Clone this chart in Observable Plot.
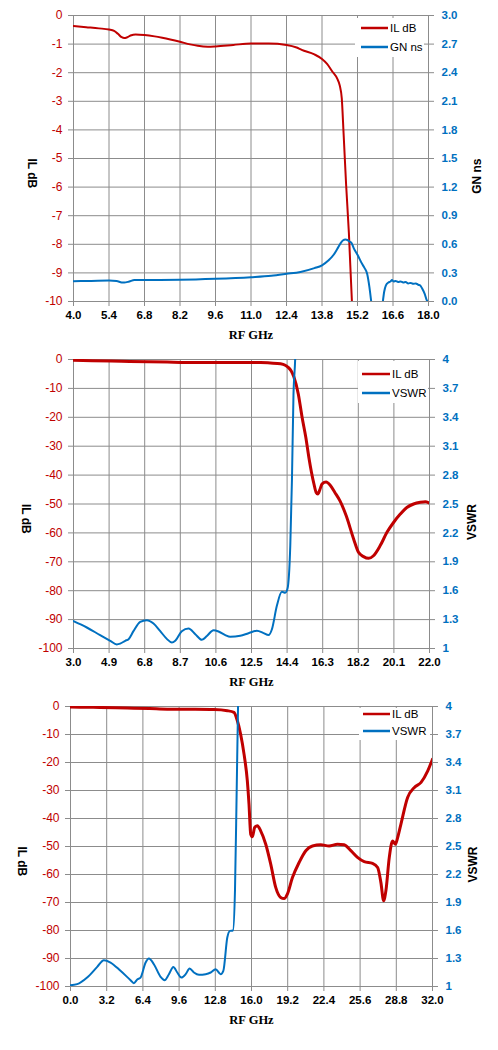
<!DOCTYPE html>
<html><head><meta charset="utf-8">
<script src="https://cdn.jsdelivr.net/npm/d3@7"></script>
<script src="https://cdn.jsdelivr.net/npm/@observablehq/plot@0.6"></script>
<style>
body{margin:0;background:#fff;width:498px}
svg{display:block}
</style></head><body><div id="c"></div>
<script>
// ---------- Chart 1: IL dB and GN ns, 4-18 GHz ----------
const c1XTicks = [4.0, 5.4, 6.8, 8.2, 9.6, 11.0, 12.4, 13.8, 15.2, 16.6, 18.0];
const c1YTicks = [0, -1, -2, -3, -4, -5, -6, -7, -8, -9, -10];
const c1RTicks = [3.0, 2.7, 2.4, 2.1, 1.8, 1.5, 1.2, 0.9, 0.6, 0.3, 0.0];
const c1IlF  = [4.0, 4.5, 5.0, 5.4, 5.6, 5.75, 5.9, 6.0, 6.1, 6.25, 6.45, 6.8, 7.2, 7.5, 8.2, 8.6, 8.9, 9.3, 9.6, 10.3, 11.0, 11.7, 12.4, 12.8, 13.0, 13.5, 13.8, 14.0, 14.2, 14.4, 14.5, 14.58, 14.65, 14.75, 14.86, 14.98, 15.02];
const c1IlDb = [-0.37, -0.41, -0.45, -0.49, -0.54, -0.64, -0.76, -0.79, -0.77, -0.70, -0.66, -0.68, -0.73, -0.78, -0.92, -1.01, -1.06, -1.09, -1.08, -1.03, -0.98, -0.98, -1.03, -1.12, -1.20, -1.36, -1.52, -1.69, -1.95, -2.21, -2.45, -2.9, -4.1, -5.9, -7.6, -10.0, -10.6];
const c1GnF  = [4.0, 4.7, 5.4, 5.7, 5.9, 6.0, 6.2, 6.4, 7.0, 8.2, 9.6, 11.0, 11.8, 12.4, 12.95, 13.5, 13.8, 14.05, 14.26, 14.4, 14.53, 14.62, 14.73, 14.8, 14.88, 14.96, 15.06, 15.2, 15.38, 15.48, 15.58, 15.67, 15.74, 15.95, 16.2, 16.25, 16.32, 16.42, 16.5, 16.56, 16.62, 16.7, 16.8, 16.9, 17.0, 17.1, 17.2, 17.3, 17.4, 17.5, 17.6, 17.67, 17.75, 17.85, 17.94, 18.0];
const c1GnNs = [0.213, 0.216, 0.22, 0.215, 0.2, 0.198, 0.21, 0.225, 0.226, 0.228, 0.238, 0.255, 0.27, 0.29, 0.31, 0.35, 0.38, 0.43, 0.49, 0.55, 0.61, 0.64, 0.65, 0.645, 0.63, 0.615, 0.555, 0.49, 0.395, 0.35, 0.29, 0.15, 0.0, null, 0.0, 0.1, 0.17, 0.2, 0.21, 0.225, 0.21, 0.215, 0.205, 0.21, 0.2, 0.205, 0.19, 0.195, 0.185, 0.19, 0.175, 0.17, 0.136, 0.08, 0.01, 0.0];

// ---------- Chart 2: IL dB and VSWR, 3-22 GHz ----------
const c2XTicks = [3.0, 4.9, 6.8, 8.7, 10.6, 12.5, 14.4, 16.3, 18.2, 20.1, 22.0];
const c2YTicks = [0, -10, -20, -30, -40, -50, -60, -70, -80, -90, -100];
const c2RTicks = [4, 3.7, 3.4, 3.1, 2.8, 2.5, 2.2, 1.9, 1.6, 1.3, 1];
const c2IlF  = [3.0, 4.0, 5.0, 6.0, 7.0, 8.0, 9.0, 10.0, 11.0, 12.0, 12.98, 13.5, 14.05, 14.3, 14.49, 14.62, 14.76, 15.0, 15.2, 15.4, 15.56, 15.7, 15.83, 15.95, 16.04, 16.15, 16.27, 16.48, 16.7, 16.95, 17.23, 17.55, 17.95, 18.21, 18.48, 18.75, 19.01, 19.37, 19.73, 20.08, 20.44, 20.79, 21.15, 21.51, 21.78, 22.0];
const c2IlDb = [-0.3, -0.4, -0.5, -0.7, -0.8, -0.9, -1.0, -1.0, -1.0, -1.0, -1.0, -1.2, -1.5, -2.0, -2.9, -4.0, -6.0, -12.0, -20.0, -27.0, -33.8, -39.0, -43.0, -46.0, -46.5, -45.0, -43.0, -42.4, -43.5, -46.0, -49.0, -54.0, -62.1, -66.7, -68.2, -68.8, -67.9, -64.4, -59.8, -56.4, -53.5, -51.2, -50.0, -49.4, -49.2, -49.7];
const c2VsF  = [3.0, 3.71, 4.42, 4.96, 5.31, 5.49, 5.76, 5.94, 6.2, 6.56, 6.91, 7.27, 7.63, 7.98, 8.25, 8.43, 8.78, 9.14, 9.5, 9.85, 10.12, 10.47, 10.74, 11.1, 11.36, 11.9, 12.34, 12.79, 13.14, 13.41, 13.59, 13.85, 14.12, 14.3, 14.42, 14.57, 14.66, 14.74, 14.83, 14.86];
const c2Vswr = [1.284, 1.218, 1.139, 1.08, 1.042, 1.05, 1.08, 1.097, 1.18, 1.277, 1.294, 1.26, 1.18, 1.10, 1.062, 1.08, 1.18, 1.208, 1.149, 1.09, 1.13, 1.19, 1.177, 1.139, 1.121, 1.132, 1.159, 1.184, 1.16, 1.139, 1.20, 1.44, 1.589, 1.58, 1.62, 2.07, 2.76, 3.63, 4.0, 4.2];

// ---------- Chart 3: IL dB and VSWR, 0-32 GHz ----------
const c3XTicks = [0.0, 3.2, 6.4, 9.6, 12.8, 16.0, 19.2, 22.4, 25.6, 28.8, 32.0];
const c3YTicks = [0, -10, -20, -30, -40, -50, -60, -70, -80, -90, -100];
const c3RTicks = [4, 3.7, 3.4, 3.1, 2.8, 2.5, 2.2, 1.9, 1.6, 1.3, 1];
const c3IlF  = [0.0, 2.0, 4.0, 5.6, 7.0, 8.55, 10.5, 12.68, 13.86, 14.45, 14.75, 15.04, 15.34, 15.63, 15.78, 15.93, 16.08, 16.28, 16.52, 16.81, 17.26, 17.7, 18.14, 18.58, 18.88, 19.17, 19.62, 20.21, 20.8, 21.39, 22.12, 22.86, 23.6, 24.19, 24.78, 25.37, 25.96, 26.7, 27.15, 27.44, 27.68, 27.88, 28.18, 28.47, 28.71, 28.92, 29.21, 29.8, 30.4, 30.99, 31.58, 32.0];
const c3IlDb = [-0.2, -0.3, -0.45, -0.6, -0.75, -0.95, -1.0, -1.1, -1.5, -2.1, -5.1, -9.9, -17.0, -26.5, -34.9, -45.6, -46.5, -43.2, -42.6, -44.4, -49.2, -56.3, -64.6, -68.2, -68.6, -67.0, -61.1, -55.7, -51.5, -49.8, -49.4, -49.8, -49.2, -49.4, -51.5, -53.9, -55.4, -56.0, -57.5, -62.9, -69.4, -65.8, -53.9, -48.0, -49.2, -46.8, -42.0, -32.5, -28.9, -27.1, -23.0, -18.8];
const c3VsF  = [0.0, 0.59, 1.47, 2.36, 2.95, 3.54, 4.42, 5.31, 5.6, 5.9, 6.19, 6.64, 6.93, 7.37, 7.96, 8.32, 8.7, 9.09, 9.44, 9.8, 10.18, 10.53, 10.91, 11.36, 11.95, 12.39, 12.83, 13.27, 13.51, 13.86, 14.1, 14.36, 14.54, 14.69, 14.81, 14.84];
const c3Vswr = [1.014, 1.025, 1.096, 1.21, 1.282, 1.257, 1.168, 1.068, 1.036, 1.075, 1.096, 1.257, 1.30, 1.239, 1.104, 1.068, 1.132, 1.21, 1.15, 1.096, 1.132, 1.193, 1.15, 1.125, 1.132, 1.15, 1.186, 1.132, 1.168, 1.525, 1.596, 1.60, 2.025, 3.1, 4.0, 4.2];

const RED = "#c00000", BLUE = "#0070c0", GRID = "#8c8c8c";
const SANS = "'Liberation Sans', Arial, sans-serif";
const SERIF = "'Liberation Serif', 'Times New Roman', serif";

function rows(fs, vs) { return fs.map((f, i) => ({f, v: vs[i]})); }

function makeChart(cfg) {
  const [l0, l1] = cfg.yDomain;      // left domain (bottom, top)
  const [r0, r1] = cfg.rDomain;      // right domain (bottom, top)
  const toLeft = v => (v == null ? NaN : l0 + (v - r0) * (l1 - l0) / (r1 - r0));
  const toRight = d => r0 + (d - l0) * (r1 - r0) / (l1 - l0);
  const svg = Plot.plot({
    width: 498,
    height: cfg.height,
    marginTop: cfg.mt, marginBottom: cfg.mb, marginLeft: cfg.ml, marginRight: cfg.mr,
    style: {fontFamily: SANS, background: "#fff", overflow: "visible"},
    x: {domain: cfg.xDomain},
    y: {domain: cfg.yDomain},
    marks: [
      Plot.gridX(cfg.xTicks, {stroke: GRID, strokeOpacity: 1, strokeWidth: 1}),
      Plot.gridY(cfg.yTicks, {stroke: GRID, strokeOpacity: 1, strokeWidth: 1}),
      Plot.frame({stroke: GRID, strokeWidth: 1}),
      Plot.axisX(cfg.xTicks, {anchor: "bottom", tickSize: 5, tickPadding: 4, stroke: GRID, fill: "#000",
        fontSize: 11.5, fontWeight: "bold", tickFormat: d => d.toFixed(1), label: null}),
      Plot.axisY(cfg.yTicks, {anchor: "left", tickSize: 5, tickPadding: 6, stroke: GRID, fill: RED,
        fontSize: 12, tickFormat: d => String(d), label: null}),
      Plot.axisY(cfg.rTicks.map(toLeft), {anchor: "right", tickSize: 5, tickPadding: 8, stroke: GRID, fill: BLUE,
        fontSize: 11.5, fontWeight: "bold", tickFormat: d => cfg.rFormat(toRight(d)), label: null}),
      Plot.line(rows(cfg.ilF, cfg.ilV), {x: "f", y: "v", stroke: RED, strokeWidth: cfg.redW, curve: "monotone-x", clip: true}),
      Plot.line(rows(cfg.bF, cfg.bV), {x: "f", y: d => toLeft(d.v), stroke: BLUE, strokeWidth: 2, curve: "monotone-x", clip: true}),
      Plot.text(["IL dB"], {text: d => d, frameAnchor: "left", dx: cfg.ltx, rotate: 90, fontWeight: "bold", fontSize: 12, fill: "#000"}),
      Plot.text([cfg.rLabel], {text: d => d, frameAnchor: "right", dx: cfg.rtx, rotate: -90, fontWeight: "bold", fontSize: 12, fill: "#000"}),
      Plot.text(["RF GHz"], {text: d => d, frameAnchor: "bottom", dy: 37, fontWeight: "bold", fontSize: 12.5, fontFamily: SERIF, fill: "#000"})
    ]
  });
  // legend box
  const g = d3.select(svg).append("g").attr("text-anchor", "start");
  const L = cfg.legend;
  g.append("rect").attr("x", L.x).attr("y", L.y).attr("width", L.w).attr("height", L.h).attr("fill", "#fff");
  [["IL dB", RED, L.y1], [cfg.rLabel, BLUE, L.y2]].forEach(([lab, col, yy]) => {
    g.append("line").attr("x1", L.lx0).attr("x2", L.lx1).attr("y1", yy).attr("y2", yy)
      .attr("stroke", col).attr("stroke-width", 2.5);
    g.append("text").attr("x", L.tx).attr("y", yy).attr("dy", "0.36em").attr("text-anchor", "start")
      .attr("font-family", SANS).attr("font-size", 11.5).attr("fill", "#000").text(lab);
  });
  return svg;
}

const fmtR1 = v => v.toFixed(1);
const fmtR2 = v => String(+v.toFixed(1));

const host = document.getElementById("c");
host.appendChild(makeChart({
  height: 345, mt: 15, mb: 44, ml: 73, mr: 70,
  xDomain: [4, 18], xTicks: c1XTicks,
  yDomain: [-10, 0], yTicks: c1YTicks,
  rDomain: [0, 3], rTicks: c1RTicks, rFormat: fmtR1, rLabel: "GN ns",
  ilF: c1IlF, ilV: c1IlDb, bF: c1GnF, bV: c1GnNs, redW: 2,
  ltx: -42, rtx: 49,
  legend: {x: 355, y: 18, w: 69, h: 39, lx0: 361, lx1: 388, tx: 390, y1: 28, y2: 47}
}));
host.appendChild(makeChart({
  height: 345, mt: 14, mb: 42, ml: 73, mr: 69,
  xDomain: [3, 22], xTicks: c2XTicks,
  yDomain: [-100, 0], yTicks: c2YTicks,
  rDomain: [1, 4], rTicks: c2RTicks, rFormat: fmtR2, rLabel: "VSWR",
  ilF: c2IlF, ilV: c2IlDb, bF: c2VsF, bV: c2Vswr, redW: 3,
  ltx: -48, rtx: 43,
  legend: {x: 358, y: 16, w: 70, h: 42, lx0: 362, lx1: 390, tx: 392, y1: 29, y2: 48}
}));
host.appendChild(makeChart({
  height: 360, mt: 16, mb: 64, ml: 70, mr: 66,
  xDomain: [0, 32], xTicks: c3XTicks,
  yDomain: [-100, 0], yTicks: c3YTicks,
  rDomain: [1, 4], rTicks: c3RTicks, rFormat: fmtR2, rLabel: "VSWR",
  ilF: c3IlF, ilV: c3IlDb, bF: c3VsF, bV: c3Vswr, redW: 3,
  ltx: -49, rtx: 41,
  legend: {x: 359, y: 18, w: 71, h: 32, lx0: 363, lx1: 390, tx: 392, y1: 24, y2: 41}
}));
</script></body></html>
